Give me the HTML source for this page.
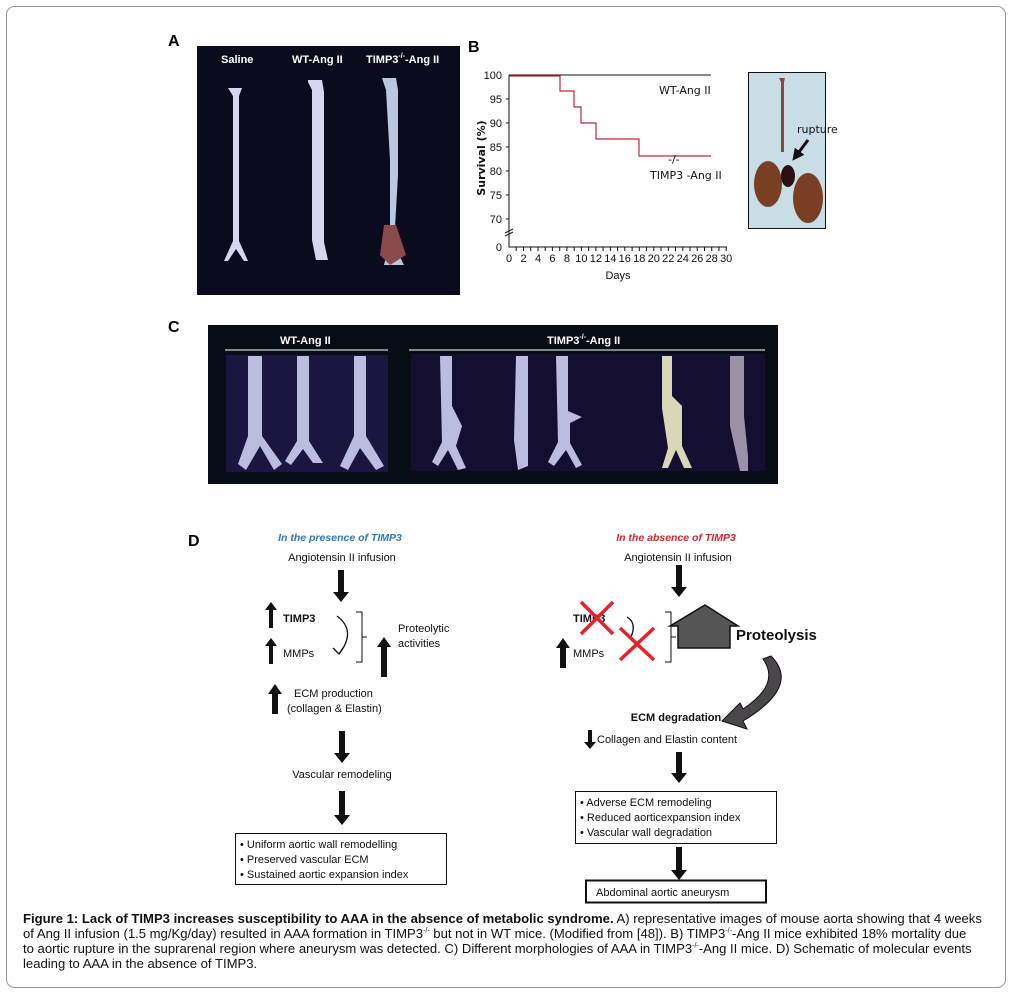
<!DOCTYPE html>
<html><head><meta charset="utf-8"><style>
html,body{margin:0;padding:0;background:#fff}
svg{display:block}
text{font-family:"Liberation Sans",sans-serif}
.c{font-family:"DejaVu Sans","Liberation Sans",sans-serif;font-size:11px;fill:#111}
.cap{position:absolute;left:23px;top:911px;width:985px;font-family:"Liberation Sans",sans-serif;font-size:13.1px;line-height:15px;color:#111;white-space:nowrap}
.cap sup{font-size:7px;line-height:0}
</style></head><body>
<div style="position:relative;width:1012px;height:1000px">
<svg width="1012" height="1000" viewBox="0 0 1012 1000">
<defs>
<marker id="ah" viewBox="0 0 10 10" refX="5" refY="5" markerWidth="4" markerHeight="4" orient="auto"><path d="M0,0L10,5L0,10z" fill="#111"/></marker>
</defs>
<rect x="6.5" y="6.5" width="999" height="981" rx="8" fill="none" stroke="#999"/>
<!-- A -->
<text x="168" y="46" font-size="16" font-weight="bold">A</text>
<rect x="197" y="46" width="263" height="249" fill="#0b0b1e"/>
<g fill="#fff" font-weight="bold" font-size="11">
<text x="221" y="63">Saline</text><text x="292" y="63">WT-Ang II</text><text x="366" y="63">TIMP3<tspan font-size="7" dy="-5">-/-</tspan><tspan dy="5">-Ang II</tspan></text></g>
<g fill="#d8d6ee">
<path d="M228,88h14l-3,8v145l9,20h-4l-8,-12l-8,12h-4l9,-20v-145z"/>
<path d="M308,80h14l2,12v150l4,18h-12l-4,-20v-150l-4,-8z"/>
<path d="M382,78h14l2,12v85l-4,70l10,20h-20l6,-25v-80l-4,-70z" fill="#b8c8e0"/>
</g>
<path d="M384,225h12l10,30l-16,10l-10,-10z" fill="#8a4a4a"/>
<!-- B -->
<text x="468" y="52" font-size="16" font-weight="bold">B</text>
<g class="c" font-size="10.5" text-anchor="end">
<text x="502" y="79">100</text><text x="502" y="103">95</text><text x="502" y="127">90</text><text x="502" y="151">85</text><text x="502" y="175">80</text><text x="502" y="199">75</text><text x="502" y="223">70</text><text x="502" y="251">0</text></g>
<g stroke="#111" stroke-width="1" fill="none">
<path d="M509,75V247H727"/>
<path d="M505,233l8,-4M505,236l8,-4" stroke="#111"/>
<path d="M509,99h-3M509,123h-3M509,147h-3M509,171h-3M509,195h-3M509,219h-3"/>
<path d="M509,75H711"/>
</g>
<g stroke="#111" stroke-width="1">
<path d="M516.2,247v4M523.5,247v4M530.7,247v4M538,247v4M545.2,247v4M552.4,247v4M559.7,247v4M566.9,247v4M574.2,247v4M581.4,247v4M588.6,247v4M595.9,247v4M603.1,247v4M610.4,247v4M617.6,247v4M624.8,247v4M632.1,247v4M639.3,247v4M646.6,247v4M653.8,247v4M661,247v4M668.3,247v4M675.5,247v4M682.8,247v4M690,247v4M697.2,247v4M704.5,247v4M711.7,247v4M719,247v4M726.2,247v4"/></g>
<g class="c" font-size="10.5" text-anchor="middle">
<text x="509" y="262">0</text><text x="523.5" y="262">2</text><text x="538" y="262">4</text><text x="552.4" y="262">6</text><text x="566.9" y="262">8</text><text x="581.4" y="262">10</text><text x="595.9" y="262">12</text><text x="610.4" y="262">14</text><text x="624.8" y="262">16</text><text x="639.3" y="262">18</text><text x="653.8" y="262">20</text><text x="668.3" y="262">22</text><text x="682.8" y="262">24</text><text x="697.2" y="262">26</text><text x="711.7" y="262">28</text><text x="726.2" y="262">30</text>
<text x="618" y="279">Days</text></g>
<text class="c" transform="translate(485,158) rotate(-90)" text-anchor="middle" font-weight="bold" font-size="11">Survival (%)</text>
<path d="M509,76H560V91H574V107H581V123H596V139H639V156H711" stroke="#c0283a" stroke-width="1.2" fill="none"/>
<text class="c" x="659" y="94" font-size="12">WT-Ang II</text>
<text class="c" x="668" y="163" font-size="9">-/-</text>
<text class="c" x="650" y="179" font-size="12">TIMP3   -Ang II</text>
<rect x="748.5" y="72.5" width="77" height="156" fill="#c8dde6" stroke="#111"/>
<path d="M779,78h6l-1,4v70h-3v-70z" fill="#8a4a3a"/>
<ellipse cx="768" cy="184" rx="14" ry="23" fill="#7a3e22"/>
<ellipse cx="808" cy="198" rx="15" ry="25" fill="#7a3e22"/>
<ellipse cx="788" cy="176" rx="7" ry="11" fill="#2a1010"/>
<text class="c" x="797" y="133" font-size="12">rupture</text>
<path d="M808,140L796,156" stroke="#111" stroke-width="3" marker-end="url(#ah)"/>
<!-- C -->
<text x="168" y="332" font-size="16" font-weight="bold">C</text>
<rect x="208" y="325" width="570" height="159" fill="#080c14"/>
<g fill="#fff" font-weight="bold" font-size="11">
<text x="280" y="344">WT-Ang II</text><text x="547" y="344">TIMP3<tspan font-size="7" dy="-5">-/-</tspan><tspan dy="5">-Ang II</tspan></text></g>
<path d="M225,350H388M409,350H765" stroke="#fff" stroke-width="1"/>
<rect x="226" y="355" width="162" height="117" fill="#1a1640"/>
<rect x="411" y="354" width="354" height="117" fill="#140f30"/>
<g fill="#bcbbe0">
<path d="M248,356h14v80l20,28l-8,6l-14,-24l-14,24l-8,-6l10,-28z"/>
<path d="M297,356h12v85l14,22h-10l-10,-14l-12,16l-6,-4l12,-20z"/>
<path d="M354,356h12v80l18,30l-8,4l-16,-22l-12,22l-8,-4l14,-30z"/>
<path d="M440,356h12v50l10,20l-6,20l10,22l-8,2l-10,-20l-10,16l-6,-4l10,-20z"/>
<path d="M516,356h12v110l-10,4l-4,-30z"/>
<path d="M556,356h12v55l14,6l-12,6v20l12,22l-6,3l-10,-18l-12,16l-6,-4l10,-20z"/>
<path d="M662,356h10v40l10,10v40l10,22h-8l-8,-18l-8,18h-6l6,-20l-6,-40z" fill="#d8d8b8"/>
<path d="M730,356h14v60l4,40v15h-8l-10,-45z" fill="#9a90a8"/>
</g>
<!-- D -->
<text x="188" y="546" font-size="16" font-weight="bold">D</text>
<g class="c">
<text x="340" y="541" text-anchor="middle" font-size="10.5" font-weight="bold" font-style="italic" style="fill:#2b7bbf">In the presence of TIMP3</text>
<text x="676" y="541" text-anchor="middle" font-size="10.5" font-weight="bold" font-style="italic" style="fill:#e8202a">In the absence of TIMP3</text>
<text x="342" y="561" text-anchor="middle">Angiotensin II infusion</text>
<text x="678" y="561" text-anchor="middle">Angiotensin II infusion</text>
<text x="283" y="622" font-weight="bold">TIMP3</text>
<text x="283" y="657">MMPs</text>
<text x="398" y="632">Proteolytic</text>
<text x="398" y="647">activities</text>
<text x="294" y="697">ECM production</text>
<text x="287" y="712">(collagen &amp; Elastin)</text>
<text x="342" y="778" text-anchor="middle">Vascular remodeling</text>
<text x="573" y="622" font-weight="bold">TIMP3</text>
<text x="573" y="657">MMPs</text>
<text x="736" y="640" font-size="15" font-weight="bold">Proteolysis</text>
<text x="676" y="721" text-anchor="middle" font-weight="bold">ECM degradation</text>
<text x="597" y="743">Collagen and Elastin content</text>
</g>
<g fill="#111">
<path d="M338,570h6v22h5l-8,10l-8,-10h5z"/>
<path d="M339,731h6v22h5l-8,10l-8,-10h5z"/>
<path d="M339,791h6v24h5l-8,10l-8,-10h5z"/>
<path d="M676,565h6v22h5l-8,10l-8,-10h5z"/>
<path d="M676,752h6v21h5l-8,10l-8,-10h5z"/>
<path d="M676,847h6v23h5l-8,10l-8,-10h5z"/>
<path d="M269,628v-18h-4l6,-8l6,8h-4v18z"/>
<path d="M269,664v-18h-4l6,-8l6,8h-4v18z"/>
<path d="M381,677v-30h-4l7,-10l7,10h-4v30z"/>
<path d="M272,714v-20h-4l7,-10l7,10h-4v20z"/>
<path d="M560,668v-20h-4l7,-10l7,10h-4v20z"/>
<path d="M588,730h4v12h4l-6,7l-6,-7h4z"/>
</g>
<path d="M337,616q20,15 2,38M333,648l6,6l4,-6" stroke="#111" stroke-width="1.3" fill="none"/>
<path d="M356,612h6v50h-6M362,637h5" stroke="#111" fill="none"/>
<path d="M627,617q10,6 4,20" stroke="#111" stroke-width="1.3" fill="none"/>
<path d="M665,612h6v50h-6M671,637h5" stroke="#111" fill="none"/>
<path d="M678,648v-22h-8l35,-21l33,21h-8v22z" fill="#555" stroke="#111" stroke-width="1.5"/>
<path d="M771,656q30,30 -28,65l4,8l-25,-8l18,-18l3,6q38,-25 20,-50z" fill="#4a464c" stroke="#111"/>
<g stroke="#e8202a" stroke-width="3.5">
<path d="M581,602l32,32M613,602l-32,32"/><path d="M620,628l34,32M654,628l-34,32"/></g>
<rect x="235.5" y="833.5" width="211" height="51" fill="none" stroke="#111"/>
<rect x="575.5" y="791.5" width="201" height="52" fill="none" stroke="#111"/>
<rect x="586" y="880.5" width="180" height="22" fill="none" stroke="#111" stroke-width="2"/>
<g class="c">
<text x="240" y="848">• Uniform aortic wall remodelling</text>
<text x="240" y="863">• Preserved vascular ECM</text>
<text x="240" y="878">• Sustained aortic expansion index</text>
<text x="580" y="806">• Adverse ECM remodeling</text>
<text x="580" y="821">• Reduced aorticexpansion index</text>
<text x="580" y="836">• Vascular wall degradation</text>
<text x="596" y="896">Abdominal aortic aneurysm</text>
</g>
</svg>
<div class="cap"><b>Figure 1: Lack of TIMP3 increases susceptibility to AAA in the absence of metabolic syndrome.</b> A) representative images of mouse aorta showing that 4 weeks<br>of Ang II infusion (1.5 mg/Kg/day) resulted in AAA formation in TIMP3<sup>-/-</sup> but not in WT mice. (Modified from [48]). B) TIMP3<sup>-/-</sup>-Ang II mice exhibited 18% mortality due<br>to aortic rupture in the suprarenal region where aneurysm was detected. C) Different morphologies of AAA in TIMP3<sup>-/-</sup>-Ang II mice. D) Schematic of molecular events<br>leading to AAA in the absence of TIMP3.</div>
</div>
</body></html>
